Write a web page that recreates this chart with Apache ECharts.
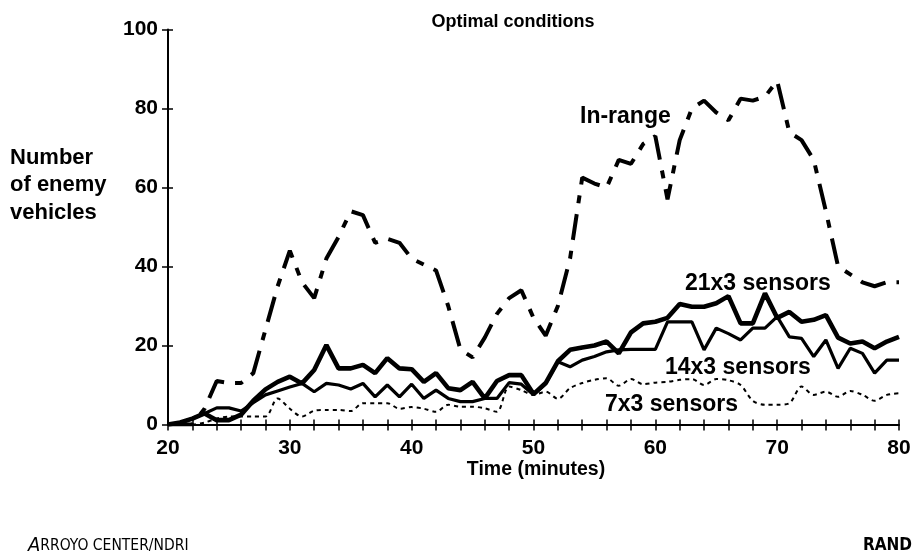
<!DOCTYPE html>
<html>
<head>
<meta charset="utf-8">
<script src="https://cdn.jsdelivr.net/npm/echarts@6/dist/echarts.min.js"></script>
<style>
  html, body { margin: 0; padding: 0; background: #fff; }
  #chart { width: 916px; height: 558px; }
</style>
</head>
<body>
<div id="chart"></div>
<script>
// minutes 20..80, one reading per minute
let minutes = [];
for (let m = 20; m <= 80; m++) minutes.push(m);

let inRange = [0, 0, 0, 4, 11, 10.5, 10.5, 13, 24, 35,
    44, 36, 32, 42, 47.5, 54, 53, 46, 47, 46,
    42, 40.5, 39, 30, 19, 17, 22, 28, 32, 34,
    27, 22.5, 30, 42, 62.5, 61, 60, 67, 66, 71,
    73, 57, 72, 80, 82, 79, 77, 82.5, 82, 83,
    87, 74, 72, 67, 54, 40, 38, 36, 35, 36,
    36];

let s21x3 = [0, 0.5, 1.5, 2.8, 1.1, 1.1, 2.5, 6, 8.9, 10.8,
    12.1, 10.4, 13.8, 20.1, 14.2, 14.2, 15.1, 13, 16.8, 14.2,
    14, 10.8, 13, 9.2, 8.7, 10.8, 6.6, 11, 12.5, 12.5,
    7.7, 10.5, 16, 18.9, 19.5, 20, 21, 18, 23.3, 25.6,
    26, 27, 30.5, 29.8, 29.8, 30.7, 32.5, 25.6, 25.6, 33.2,
    27, 28.5, 26, 26.5, 27.7, 22, 20.5, 21, 19.3, 21,
    22.2];

let s14x3 = [0, 0.5, 1.5, 2.8, 4.2, 4.2, 3.4, 5.5, 7.5, 8.5,
    9.5, 10.4, 8.3, 10.4, 10, 9, 10.4, 7, 10, 7,
    10.2, 6.6, 8.7, 6.6, 5.8, 5.8, 6.6, 6.6, 10.6, 10.2,
    7.5, 10.3, 15.9, 14.6, 16.3, 17.2, 18.4, 18.9, 19, 19,
    19, 26, 26, 26, 18.9, 24.4, 23, 21.4, 24.4, 24.4,
    27.3, 22.2, 21.8, 17.2, 21.4, 14.2, 19.3, 18, 13, 16.3,
    16.3];

let s7x3 = [0, 0, 0, 0.5, 1.5, 2, 2, 2, 2, 6.6,
    4, 2, 3.5, 3.7, 3.7, 3.4, 5.4, 5.4, 5.4, 4,
    4.4, 4, 3.2, 5, 4.5, 4.5, 4.1, 3.2, 9.6, 8.7,
    7.5, 8.3, 6.5, 9.2, 10.5, 11.3, 11.7, 9.8, 11.5, 10.2,
    10.6, 10.8, 11.3, 11.5, 10, 11.5, 11.2, 10, 6, 5,
    5, 5.4, 9.6, 7.5, 8.3, 7, 8.5, 7.5, 6, 7.5,
    7.9];

function pairs(vals) {
    return minutes.map((m, i) => [m, vals[i]]);
}

let myChart = echarts.init(document.getElementById('chart'));
let font = '"Liberation Sans", Arial, sans-serif';
let footFont = '"DejaVu Sans Condensed", "DejaVu Sans", sans-serif';

option = {
    animation: false,
    backgroundColor: '#fff',
    grid: {left: 168, right: 17, top: 29.5, bottom: 133.5, containLabel: false},
    xAxis: [
        {
            type: 'value', min: 20, max: 80, interval: 2, position: 'bottom',
            axisLine: {lineStyle: {color: '#000', width: 2}},
            axisTick: {inside: false, length: 6, lineStyle: {color: '#000', width: 1.5}},
            axisLabel: {
                margin: 13, color: '#000', fontFamily: font, fontWeight: 'bold', fontSize: 21,
                formatter: v => (v % 10 === 0 ? v : '')
            },
            splitLine: {show: false}
        },
        {
            type: 'value', min: 20, max: 80, interval: 2, position: 'bottom', offset: 0,
            axisLine: {show: false},
            axisTick: {inside: true, length: 5, lineStyle: {color: '#000', width: 1.5}},
            axisLabel: {show: false},
            splitLine: {show: false}
        }
    ],
    yAxis: [
        {
            type: 'value', min: 0, max: 100, interval: 20, position: 'left',
            axisLine: {show: true, lineStyle: {color: '#000', width: 2}},
            axisTick: {show: true, inside: false, length: 6, lineStyle: {color: '#000', width: 1.5}},
            axisLabel: {margin: 10, color: '#000', fontFamily: font, fontWeight: 'bold', fontSize: 21},
            splitLine: {show: false}
        },
        {
            type: 'value', min: 0, max: 100, interval: 20, position: 'left', offset: 0,
            axisLine: {show: false},
            axisTick: {show: true, inside: true, length: 5, lineStyle: {color: '#000', width: 1.5}},
            axisLabel: {show: false},
            splitLine: {show: false}
        }
    ],
    series: [
        {
            name: 'In-range', type: 'line', data: pairs(inRange), symbol: 'none',
            lineStyle: {color: '#000', width: 4, type: [26, 11, 8, 11]}
        },
        {
            name: '7x3 sensors', type: 'line', data: pairs(s7x3), symbol: 'none', smooth: 0.3,
            lineStyle: {color: '#000', width: 2, type: [4, 4]}
        },
        {
            name: '14x3 sensors', type: 'line', data: pairs(s14x3), symbol: 'none',
            lineStyle: {color: '#000', width: 3.2}
        },
        {
            name: '21x3 sensors', type: 'line', data: pairs(s21x3), symbol: 'none',
            lineStyle: {color: '#000', width: 4.6}
        }
    ],
    graphic: [
        {type: 'text', x: 513, y: 22, style: {text: 'Optimal conditions', fill: '#000', font: 'bold 18px ' + font, textAlign: 'center', textVerticalAlign: 'middle'}},
        {type: 'text', x: 10, y: 144, style: {text: 'Number\nof enemy\nvehicles', fill: '#000', font: 'bold 22px ' + font, lineHeight: 27.5, textAlign: 'left'}},
        {type: 'text', x: 536, y: 470, style: {text: 'Time (minutes)', fill: '#000', font: 'bold 19.5px ' + font, textAlign: 'center', textVerticalAlign: 'middle'}},
        {type: 'text', x: 580, y: 117, style: {text: 'In-range', fill: '#000', font: 'bold 23px ' + font, textVerticalAlign: 'middle'}},
        {type: 'text', x: 685, y: 284, style: {text: '21x3 sensors', fill: '#000', font: 'bold 23px ' + font, textVerticalAlign: 'middle'}},
        {type: 'text', x: 665, y: 368, style: {text: '14x3 sensors', fill: '#000', font: 'bold 23px ' + font, textVerticalAlign: 'middle'}},
        {type: 'text', x: 605, y: 405, style: {text: '7x3 sensors', fill: '#000', font: 'bold 23px ' + font, textVerticalAlign: 'middle'}},
        {
            type: 'text', x: 28, y: 556,
            style: {
                text: '{a|A}{b|RROYO CENTER/NDRI}', textVerticalAlign: 'bottom',
                rich: {
                    a: {fontFamily: footFont, fontSize: 20, fontStyle: 'italic', fill: '#000'},
                    b: {fontFamily: footFont, fontSize: 15.5, fill: '#000'}
                }
            }
        },
        {type: 'text', x: 912, y: 546, style: {text: 'RAND', fill: '#000', font: 'bold 17px ' + footFont, textAlign: 'right', textVerticalAlign: 'middle'}}
    ]
};

myChart.setOption(option);
</script>
</body>
</html>
